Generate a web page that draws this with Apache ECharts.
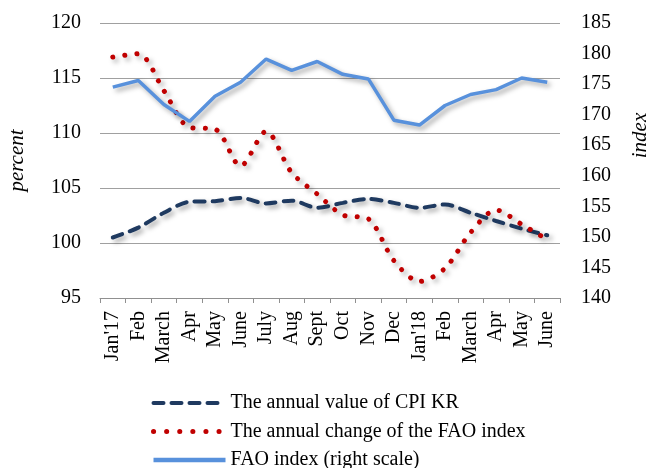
<!DOCTYPE html>
<html><head><meta charset="utf-8">
<script src="https://cdn.jsdelivr.net/npm/echarts@6/dist/echarts.min.js"></script>
<style>html,body{margin:0;padding:0;background:#fff}#c{width:650px;height:468px}</style>
</head><body><div id="c"></div>
<script>
const categories = ["Jan'17","Feb","March","Apr","May","June","July","Aug","Sept","Oct","Nov","Dec","Jan'18","Feb","March","Apr","May","June"];
const cpiKR = [100.5,101.4,102.75,103.75,103.8,104.1,103.6,103.85,103.2,103.65,104.0,103.65,103.2,103.5,102.75,102.0,101.3,100.7];
const faoChange = [116.9,117.2,113.85,110.5,110.35,107.0,110.15,106.4,104.45,102.55,102.2,98.4,96.5,97.7,100.95,103.0,101.7,100.3];
const faoIndex = [174.5,175.6,171.65,168.9,173.0,175.3,179.1,177.25,178.7,176.6,175.85,169.1,168.3,171.5,173.3,174.1,176.0,175.3];
const leftTicks = {min:95,max:120,interval:5};
const rightTicks = {min:140,max:185,interval:5};

const font = 'Liberation Serif';
const shadow = {shadowColor:'rgba(0,0,0,0.35)',shadowBlur:5,shadowOffsetX:3,shadowOffsetY:3};
const cpiStyle = {color:'#1f3a60',width:4,type:[10,8],cap:'round'};
const chgStyle = {color:'#c00000',width:5,type:[0.1,12],cap:'round'};
const idxStyle = {color:'#5891dc',width:3.5};
const chart = echarts.init(document.getElementById('c'));
chart.setOption({
  animation:false,
  grid:{left:100,right:90,top:23,bottom:170,containLabel:false,outerBoundsMode:'none'},
  legend:{
    orient:'vertical', left:146, top:388, height:120, itemWidth:72, itemHeight:14, itemGap:8.5,
    itemStyle:{opacity:0},
    textStyle:{fontFamily:font,fontSize:20,lineHeight:20,color:'#000'},
    data:[
      {name:'The annual value of CPI KR',lineStyle:Object.assign({},cpiStyle,{type:[10,8]})},
      {name:'The annual change of the FAO index',lineStyle:Object.assign({},chgStyle,{type:[0.1,13]})},
      {name:'FAO index (right scale)',lineStyle:Object.assign({},idxStyle,{width:4.5})}
    ]
  },
  xAxis:{
    type:'category', data:categories, boundaryGap:true,
    axisLine:{lineStyle:{color:'#909090',width:1}},
    axisTick:{show:true,length:5,lineStyle:{color:'#909090'}},
    axisLabel:{rotate:90,interval:0,margin:13,fontFamily:font,fontSize:20,color:'#000'}
  },
  yAxis:[
    {type:'value',min:leftTicks.min,max:leftTicks.max,interval:leftTicks.interval,
     name:'percent',nameLocation:'middle',nameGap:72,nameRotate:90,
     nameTextStyle:{fontFamily:font,fontSize:21,fontStyle:'italic',color:'#000'},
     axisLine:{show:false},axisTick:{show:false},
     axisLabel:{margin:19,fontFamily:font,fontSize:20,color:'#000'},
     splitLine:{lineStyle:{color:'#a0a0a0',width:1}}},
    {type:'value',min:rightTicks.min,max:rightTicks.max,interval:rightTicks.interval,
     name:'index',nameLocation:'middle',nameGap:70,nameRotate:90,
     nameTextStyle:{fontFamily:font,fontSize:21,fontStyle:'italic',color:'#000',padding:[0,0,0,50]},
     axisLine:{show:false},axisTick:{show:false},
     axisLabel:{margin:21,fontFamily:font,fontSize:20,color:'#000'},
     splitLine:{show:false}}
  ],
  series:[
    {name:'The annual value of CPI KR',type:'line',yAxisIndex:0,data:cpiKR,symbol:'none',smooth:0.3,
     itemStyle:{color:'#1f3a60'},
     lineStyle:Object.assign({},cpiStyle,shadow)},
    {name:'The annual change of the FAO index',type:'line',yAxisIndex:0,data:faoChange,symbol:'none',smooth:0.3,
     itemStyle:{color:'#c00000'},
     lineStyle:Object.assign({},chgStyle,shadow)},
    {name:'FAO index (right scale)',type:'line',yAxisIndex:1,data:faoIndex,symbol:'none',
     itemStyle:{color:'#5891dc'},
     lineStyle:Object.assign({},idxStyle,shadow)}
  ]
});
</script></body></html>
